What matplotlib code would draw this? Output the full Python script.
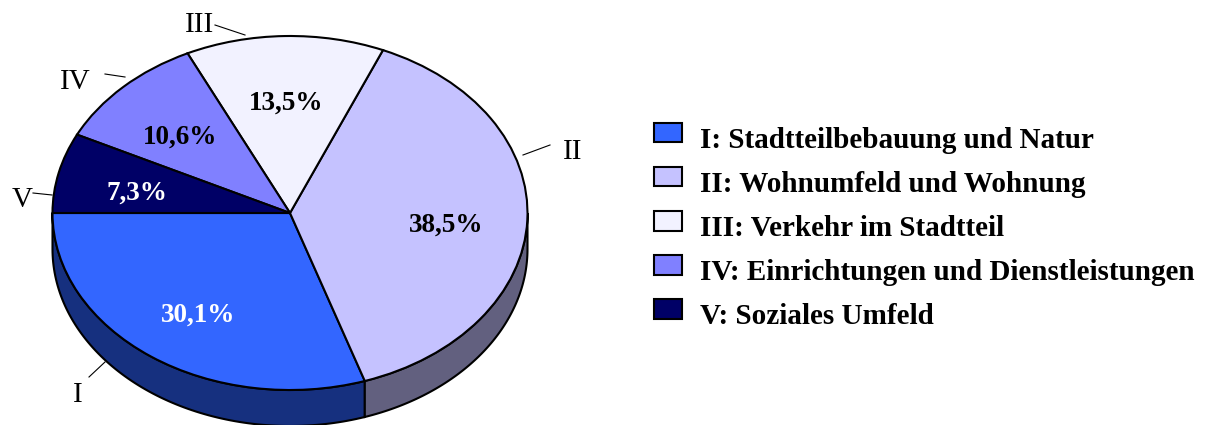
import numpy as np
import matplotlib
matplotlib.use("Agg")
import matplotlib.pyplot as plt
from matplotlib.legend_handler import HandlerPatch
from matplotlib.patches import Patch, Rectangle
from matplotlib.transforms import Affine2D

labels = ["I", "II", "III", "IV", "V"]
names = ["I: Stadtteilbebauung und Natur", "II: Wohnumfeld und Wohnung", "III: Verkehr im Stadtteil",
	"IV: Einrichtungen und Dienstleistungen", "V: Soziales Umfeld"]
values = [30.1, 38.5, 13.5, 10.6, 7.3]
colors = ["#3366FF", "#C5C2FF", "#F2F2FF", "#8080FF", "#000066"]
wall_colors = ["#16307F", "#62607F"]
pct_colors = ["white", "black", "black", "black", "white"]

W, H = 1210, 425
cx, cy, rx, ry, depth = 290, 213, 237.5, 177, 36
serif = "Liberation Serif"

fig = plt.figure(figsize=(W/100, H/100), dpi=100)
ax = fig.add_axes([0, 0, 1, 1])

# walls first, the top face goes over them
edges = 180 + np.cumsum([0] + values) * 3.6
d = depth / ry
for i in range(2):
	t = np.radians(np.linspace(edges[i], min(edges[i+1], 360), 100))
	xs = np.r_[np.cos(t), np.cos(t[::-1])]
	ys = np.r_[np.sin(t), np.sin(t[::-1]) - d]
	ax.fill(xs, ys, facecolor=wall_colors[i], edgecolor="black", lw=1.5, zorder=1)

wedges, _, pcts = ax.pie(values, colors=colors, startangle=180, counterclock=True, radius=1,
	autopct=lambda p: ("%.1f%%" % p).replace(".", ","), pctdistance=0.66,
	wedgeprops=dict(edgecolor="black", linewidth=1.5, zorder=2))
for p, c in zip(pcts, pct_colors):
	p.set(color=c, family=serif, weight="bold", fontsize=19.5, zorder=3)
	p.set_y(p.get_position()[1] - 7/ry)

ax.set_aspect("auto")
ax.set_xlim(-cx/rx, (W-cx)/rx)
ax.set_ylim(-(H-cy)/ry, cy/ry)
ax.axis("off")

# outer labels with leader lines, placed in pixels from the top left
pix = Affine2D().scale(1/W, -1/H).translate(0, 1) + fig.transFigure
label_pos = [(78, 395), (573, 152), (200, 25), (75, 82), (22, 200)]
line_pos = [((105, 362), (89, 377)), ((550, 145), (523, 155)), ((245, 35), (215, 25)),
	((125, 77), (105, 74)), ((52, 195), (33, 193))]
for lab, pos, (a, b) in zip(labels, label_pos, line_pos):
	ax.text(pos[0], pos[1], lab, transform=pix, family=serif, fontsize=21, ha="center", va="center", zorder=4)
	ax.plot([a[0], b[0]], [a[1], b[1]], transform=pix, color="black", lw=0.8, zorder=4, clip_on=False)

def raised_box(legend, orig_handle, xdescent, ydescent, width, height, fontsize):
	return Rectangle((-xdescent, -ydescent + 3.5), width, height)

handles = [Patch(facecolor=c, edgecolor="black", linewidth=1.5) for c in colors]
leg = ax.legend(handles, names, loc="upper left", bbox_to_anchor=(654/W, 1-126.5/H), frameon=False,
	prop=dict(family=serif, weight="bold", size=21), handlelength=0.96, handleheight=0.65,
	handletextpad=0.62, labelspacing=0.59, borderpad=0, borderaxespad=0,
	handler_map={Patch: HandlerPatch(patch_func=raised_box)})

fig.savefig("out.png", dpi=100)
